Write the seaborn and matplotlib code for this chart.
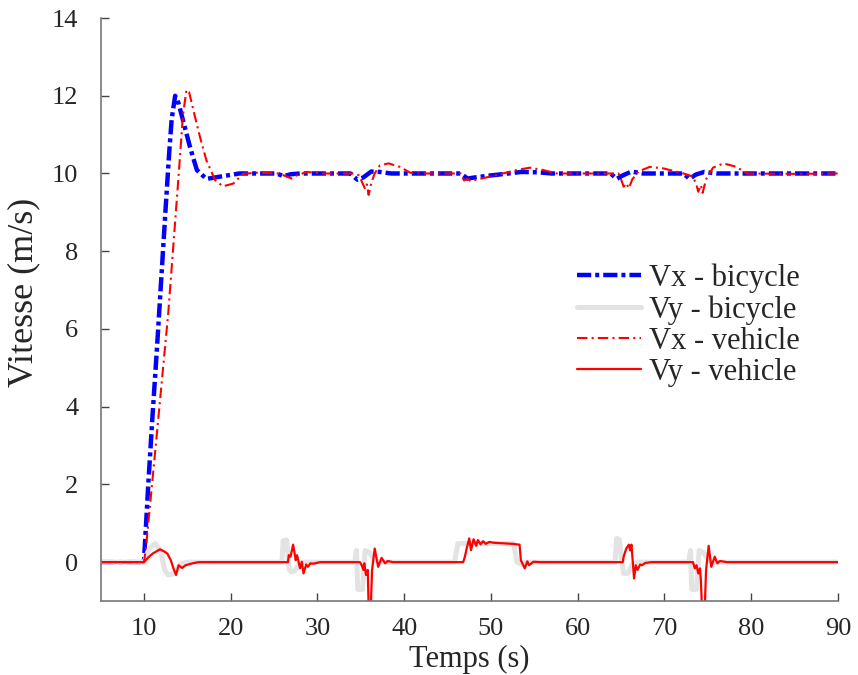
import matplotlib
matplotlib.use("Agg")
import matplotlib.pyplot as plt
import pandas as pd
import seaborn as sns

# Vx - bicycle (time in s, speed in m/s)
t_vx_bic = [5, 10, 10.5, 11.0, 11.5, 12.0, 12.5, 12.9, 13.2, 13.6, 14.0, 14.5,
            15.3, 16.1, 17.2, 18.8, 21.0, 25.3, 26.1, 26.9, 28.0, 33.8, 34.6,
            35.3, 36.2, 37.2, 38.5, 46.5, 47.3, 48.2, 50.0, 52.0, 53.5, 55.5,
            57.0, 63.8, 64.5, 65.2, 66.2, 67.5, 72.2, 72.9, 73.6, 74.6, 76.0, 90]
vx_bic = [0, 0, 2.0, 3.8, 5.5, 7.3, 9.1, 10.5, 11.4, 12.0, 11.8, 11.37,
          10.69, 10.09, 9.86, 9.92, 10.0, 10.0, 9.93, 9.98, 10.0, 10.0, 9.84,
          9.9, 10.05, 10.04, 10.0, 10.0, 9.87, 9.9, 9.95, 10.0, 10.04, 10.03,
          10.0, 10.0, 9.86, 9.95, 10.05, 10.0, 10.0, 9.86, 9.97, 10.04, 10.0, 10.0]

# Vy - bicycle
t_vy_bic = [5, 10, 10.6, 11.3, 11.9, 12.4, 12.8, 13.4, 14.2, 15,
            25.9, 26.05, 26.45, 26.75, 27.0, 27.4, 28.0, 28.5,
            34.3, 34.5, 34.65, 35.2, 35.5, 36.0, 36.6, 37.2,
            45.8, 46.2, 52.6, 53.0, 53.5, 54.0,
            64.3, 64.5, 64.8, 65.1, 65.3, 65.8, 66.3, 66.9,
            72.8, 73.0, 73.15, 73.7, 74.0, 74.5, 75.1, 75.7, 90]
vy_bic = [0, 0, 0.35, 0.48, 0.3, -0.2, -0.33, -0.3, -0.05, 0,
          0, 0.55, 0.57, -0.2, -0.25, -0.22, -0.03, 0,
          0, 0.3, -0.7, -0.7, 0.3, 0.25, 0.05, 0,
          0, 0.48, 0.48, 0.0, -0.05, 0,
          0, 0.61, 0.58, 0.0, -0.29, -0.29, -0.05, 0,
          0, 0.3, -0.7, -0.7, 0.3, 0.25, 0.05, 0, 0]

# Vx - vehicle
t_vx_veh = [5, 10.0, 10.2, 11.35, 12.8, 13.96, 14.5, 14.9, 15.2, 15.7, 16.46,
            17.2, 18.2, 19.1, 20.3, 21.4, 23, 25.5, 26.5, 27.0, 27.6, 28.8,
            30.5, 34.2, 34.8, 35.2, 35.5, 35.7, 35.9, 36.2, 36.6, 37.2, 38.2,
            39.5, 40.7, 42, 46.5, 46.9, 47.3, 47.7, 48.3, 49.5, 51, 53, 54.5,
            56, 57.6, 64.7, 65.0, 65.3, 65.6, 65.9, 66.3, 67.0, 68.3, 69.9,
            72.2, 73.3, 73.7, 73.9, 74.2, 74.4, 74.8, 75.6, 76.8, 78.3, 79.5,
            85, 90]
vx_veh = [0, 0, 0.3, 2.97, 6.4, 9.83, 11.5, 12.15, 12.1, 11.63, 10.94,
          10.34, 9.83, 9.67, 9.74, 9.99, 10.02, 10.0, 9.92, 9.87, 9.95, 10.04,
          10.0, 10.0, 9.95, 9.75, 9.6, 9.72, 9.45, 9.75, 10.0, 10.21, 10.26,
          10.17, 10.02, 10.0, 10.0, 9.82, 9.86, 9.8, 9.84, 9.9, 9.98, 10.09, 10.15,
          10.09, 10.0, 10.0, 9.85, 9.66, 9.75, 9.62, 9.85, 10.05, 10.17, 10.13,
          10.0, 9.92, 9.7, 9.53, 9.7, 9.5, 9.85, 10.15, 10.26, 10.17, 10.0,
          9.99, 10.0]

# Vy - vehicle
t_vy_veh = [5, 10, 10.5, 11.0, 11.85, 12.3, 12.7, 13.1, 13.4, 13.7, 14.0, 14.4,
            14.8, 15.6, 16.3,
            26.6, 26.7, 26.9, 27.2, 27.5, 27.65, 28.0, 28.2, 28.4, 28.7, 28.9,
            29.2, 29.5, 30.3,
            34.9, 35.1, 35.3, 35.4, 35.6, 35.8, 35.95, 36.1, 36.3, 36.6, 37.0,
            37.4, 37.8, 38.1, 38.7,
            46.8, 47.0, 47.2, 47.5, 47.7, 48.0, 48.3, 48.5, 48.8, 49.1, 49.4,
            49.8, 50.3, 51.0, 51.8, 52.5, 53.3, 53.45, 53.9, 54.2, 54.4, 54.9, 55.7,
            65.2, 65.3, 65.6, 65.9, 66.05, 66.2, 66.5, 66.7, 66.9, 67.2, 67.4,
            67.8, 68.5,
            73.3, 73.5, 73.7, 73.9, 74.1, 74.2, 74.4, 74.6, 74.8, 75.1, 75.4,
            75.8, 76.1, 76.4, 77.2, 90]
vy_veh = [0, 0, 0.12, 0.22, 0.33, 0.28, 0.22, 0.05, -0.16, -0.33, -0.08, -0.15,
          -0.08, -0.03, 0,
          0, 0.18, 0.14, 0.45, 0.05, 0.18, -0.16, 0.01, -0.29, -0.06, -0.12,
          -0.03, -0.04, 0,
          0, -0.08, -0.2, -0.03, -0.33, -0.2, -1.6, -1.5, -0.2, 0.35, -0.12,
          0.11, -0.03, 0.03, 0,
          0, 0.14, 0.35, 0.61, 0.31, 0.59, 0.42, 0.57, 0.46, 0.54, 0.47,
          0.52, 0.5, 0.49, 0.48, 0.47, 0.45, 0.05, -0.16, 0.02, -0.08, 0.01, 0,
          0, 0.14, 0.35, 0.45, 0.3, 0.45, -0.42, -0.08, -0.2, -0.06, -0.08,
          -0.02, 0,
          0, -0.16, -0.08, -0.29, -0.16, -0.46, -1.6, -1.5, -0.2, 0.42, -0.12,
          0.14, -0.03, 0.03, 0, 0]

x_ticks = [10, 20, 30, 40, 50, 60, 70, 80, 90]
y_ticks = [0, 2, 4, 6, 8, 10, 12, 14]

sns.set_style("ticks")
plt.rcParams["font.family"] = ["Liberation Serif", "DejaVu Serif"]

fig = plt.figure(figsize=(8.58, 6.75), dpi=100)
ax = fig.add_axes([0.1172, 0.1096, 0.8594, 0.8637])

series = [
    (t_vx_bic, vx_bic, "Vx - bicycle", dict(color="#0000ff", linewidth=3.2,
                                            linestyle=(0, (3.2, 0.9, 0.9, 0.9)))),
    (t_vy_bic, vy_bic, "Vy - bicycle", dict(color="#e3e3e3", linewidth=3.6,
                                            linestyle="-")),
    (t_vx_veh, vx_veh, "Vx - vehicle", dict(color="#ff0000", linewidth=1.5,
                                            linestyle=(0, (5, 2, 1, 2)))),
    (t_vy_veh, vy_veh, "Vy - vehicle", dict(color="#ff0000", linewidth=1.6,
                                            linestyle="-")),
]
for t, v, name, style in series:
    df = pd.DataFrame({"t": t, "v": v})
    sns.lineplot(data=df, x="t", y="v", ax=ax, label=name, sort=False,
                 estimator=None, **style)

ax.set_xlim(5, 90)
ax.set_ylim(-1, 14)
ax.set_xticks(x_ticks)
ax.set_yticks(y_ticks)
ax.set_xlabel("Temps (s)", fontsize=22, labelpad=4)
ax.set_ylabel("Vitesse (m/s)", fontsize=26)
ax.yaxis.set_label_coords(-0.082, 0.53)

for side in ["top", "right"]:
    ax.spines[side].set_visible(False)
for side in ["left", "bottom"]:
    ax.spines[side].set_color("#777777")
    ax.spines[side].set_linewidth(1.2)
ax.tick_params(axis="x", direction="in", length=6, width=1, color="#444444",
               labelsize=19, pad=12)
ax.tick_params(axis="y", direction="in", length=6, width=1, color="#444444",
               labelsize=19, pad=16)

ax.legend(loc="upper left", bbox_to_anchor=(0.63, 0.6), frameon=False,
          fontsize=22, handlelength=2.1, handletextpad=0.25, labelspacing=0.07,
          borderaxespad=0)

fig.savefig("out.png", dpi=100)
